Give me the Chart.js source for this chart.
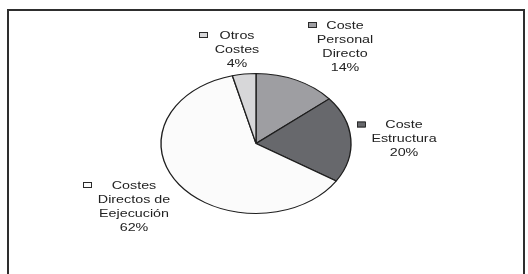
<!DOCTYPE html>
<html>
<head>
<meta charset="utf-8">
<script src="https://cdn.jsdelivr.net/npm/chart.js@4/dist/chart.umd.min.js"></script>
<style>
  html, body { margin: 0; padding: 0; background: #fff; }
  #wrap { position: relative; width: 528px; height: 274px; }
  canvas { display: block; }
</style>
</head>
<body>
<div id="wrap"><canvas id="c" width="528" height="274"></canvas></div>
<script>
// ---- data ----
const categories = [
  ['Coste', 'Personal', 'Directo'],
  ['Coste', 'Estructura'],
  ['Costes', 'Directos de', 'Eejecución'],
  ['Otros', 'Costes']
];
const values = [14, 20, 62, 4];
const sliceColors = ['#9e9ea2', '#67686c', '#fbfbfb', '#d7d7d9'];

// ---- label placement (offsets from pie centre, px) ----
const labelPlacement = [
  { dx: 89,   dy: -118.5, keyDx: 52 },
  { dx: 148,  dy: -19,    keyDx: 101 },
  { dx: -122, dy: 41.5,   keyDx: -173 },
  { dx: -19,  dy: -108.5, keyDx: -57 }
];

const RX = 95, RY = 70;
const TEXT_STRETCH = 1.3;
const LINE_H = 14;

const framePlugin = {
  id: 'frame',
  beforeDraw(chart) {
    const ctx = chart.ctx;
    ctx.save();
    ctx.fillStyle = '#ffffff';
    ctx.fillRect(0, 0, chart.width, chart.height);
    ctx.fillStyle = '#2e2e2e';
    ctx.fillRect(7, 9, 518, 2);
    ctx.fillRect(7, 9, 2, 270);
    ctx.fillRect(523, 9, 2, 270);
    ctx.restore();
  }
};

const ellipsePlugin = {
  id: 'ellipse',
  beforeDatasetsDraw(chart) {
    const arc = chart.getDatasetMeta(0).data[0];
    const ctx = chart.ctx;
    ctx.save();
    ctx.translate(arc.x, arc.y);
    ctx.scale(RX / RY, 1);
    ctx.translate(-arc.x, -arc.y);
  },
  afterDatasetsDraw(chart) {
    chart.ctx.restore();
  }
};

const labelPlugin = {
  id: 'sliceLabels',
  afterDraw(chart) {
    const ctx = chart.ctx;
    const meta = chart.getDatasetMeta(0);
    const ds = chart.data.datasets[0];
    const total = ds.data.reduce((a, b) => a + b, 0);
    meta.data.forEach((arc, i) => {
      const p = labelPlacement[i];
      const cx = arc.x, cy = arc.y;
      const lines = chart.data.labels[i].concat([Math.round(ds.data[i] / total * 100) + '%']);
      const tx = cx + p.dx;
      const ty = cy + p.dy;
      // legend key
      ctx.save();
      ctx.fillStyle = ds.backgroundColor[i];
      ctx.fillRect(cx + p.keyDx, ty - 3, 8, 6);
      ctx.strokeStyle = '#2a2a2a';
      ctx.lineWidth = 1;
      ctx.strokeRect(cx + p.keyDx + 0.5, ty - 2.5, 8, 5);
      ctx.restore();
      // text
      lines.forEach((ln, k) => {
        ctx.save();
        ctx.translate(tx, ty + k * LINE_H);
        ctx.scale(TEXT_STRETCH, 1);
        ctx.font = '11px "Liberation Sans", Arial, sans-serif';
        ctx.fillStyle = '#222222';
        ctx.textAlign = 'center';
        ctx.textBaseline = 'middle';
        ctx.fillText(ln, 0, 0.5);
        ctx.restore();
      });
    });
  }
};

new Chart(document.getElementById('c'), {
  type: 'pie',
  data: {
    labels: categories,
    datasets: [{
      data: values,
      backgroundColor: sliceColors,
      borderColor: '#1e1e1e',
      borderWidth: 1
    }]
  },
  options: {
    responsive: false,
    animation: false,
    radius: RY,
    rotation: 0,
    layout: { padding: { left: 100, right: 116, top: 60, bottom: 47 } },
    plugins: {
      legend: { display: false },
      tooltip: { enabled: false }
    }
  },
  plugins: [framePlugin, ellipsePlugin, labelPlugin]
});
</script>
</body>
</html>
